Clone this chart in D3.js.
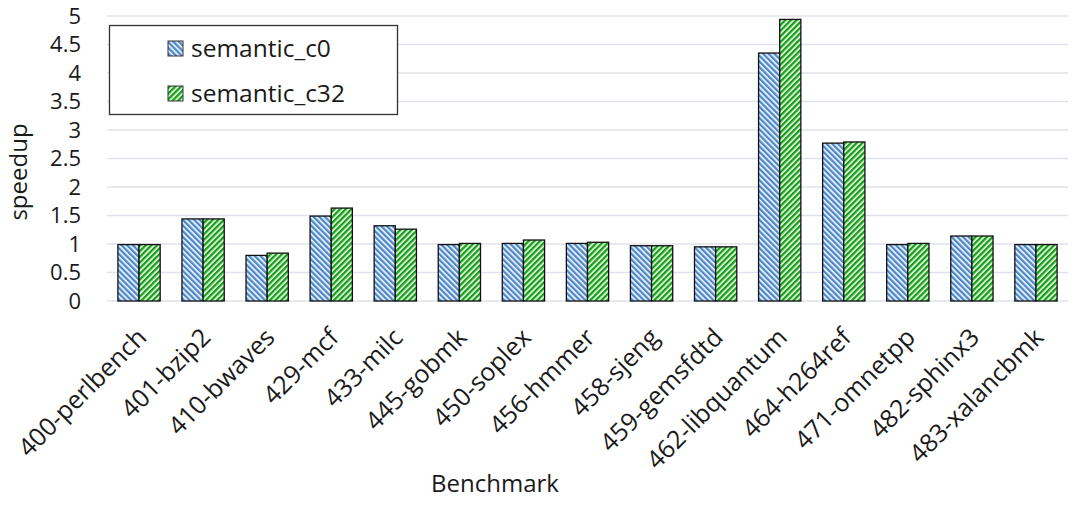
<!DOCTYPE html>
<html>
<head>
<meta charset="utf-8">
<script src="https://cdn.jsdelivr.net/npm/d3@7/dist/d3.min.js"></script>
<style>
  body { margin: 0; background: #fff; }
  svg { display: block; }
  text { font-family: "Open Sans", sans-serif; fill: #1a1a1a; }
</style>
</head>
<body>
<svg id="chart" width="1076" height="505"></svg>
<script>
const categories = ["400-perlbench","401-bzip2","410-bwaves","429-mcf","433-milc","445-gobmk","450-soplex","456-hmmer","458-sjeng","459-gemsfdtd","462-libquantum","464-h264ref","471-omnetpp","482-sphinx3","483-xalancbmk"];
const seriesNames = ["semantic_c0","semantic_c32"];
const c0  = [0.99,1.44,0.80,1.49,1.32,0.99,1.01,1.01,0.97,0.95,4.35,2.77,0.99,1.14,0.99];
const c32 = [0.99,1.44,0.84,1.63,1.26,1.01,1.07,1.03,0.97,0.95,4.94,2.79,1.01,1.14,0.99];
const yTicks = [0,0.5,1,1.5,2,2.5,3,3.5,4,4.5,5];

const svg = d3.select("#chart");
const margin = {left: 107, right: 8, top: 16, bottom: 204};
const W = 1076, H = 505;
const x0 = d3.scaleBand().domain(categories).range([margin.left, W - margin.right]).paddingInner(0.34).paddingOuter(0.17);
const x1 = d3.scaleBand().domain(seriesNames).range([0, x0.bandwidth()]);
const y = d3.scaleLinear().domain([0, 5]).range([H - margin.bottom, margin.top]);

// patterns
const defs = svg.append("defs");
function pat(id, color, dir) {
  const p = defs.append("pattern").attr("id", id).attr("patternUnits", "userSpaceOnUse")
    .attr("width", 4).attr("height", 4)
    .attr("patternTransform", `rotate(${dir})`);
  p.append("rect").attr("width", 4).attr("height", 4).attr("fill", "#fff");
  p.append("rect").attr("width", 2.4).attr("height", 4).attr("fill", color);
}
pat("pBlue", "#4c88cc", -45);
pat("pGreen", "#14a014", 45);
const fills = {"semantic_c0": "url(#pBlue)", "semantic_c32": "url(#pGreen)"};

// gridlines
svg.append("g").selectAll("line").data(yTicks).join("line")
  .attr("x1", margin.left).attr("x2", W - margin.right)
  .attr("y1", d => y(d)).attr("y2", d => y(d))
  .attr("stroke", "#dfe2ea").attr("stroke-width", 1.5);

// y tick labels
svg.append("g").selectAll("text").data(yTicks).join("text")
  .attr("x", 81).attr("y", d => y(d)).attr("dy", "0.36em")
  .attr("text-anchor", "end").style("font-size", "22px")
  .text(d => d);

// bars
const data = categories.map((c, i) => ({cat: c, vals: [{s: "semantic_c0", v: c0[i]}, {s: "semantic_c32", v: c32[i]}]}));
const g = svg.append("g").selectAll("g").data(data).join("g")
  .attr("transform", d => `translate(${x0(d.cat)},0)`);
g.selectAll("rect").data(d => d.vals).join("rect")
  .attr("x", d => x1(d.s)).attr("width", x1.bandwidth())
  .attr("y", d => y(d.v)).attr("height", d => y(0) - y(d.v))
  .attr("fill", d => fills[d.s])
  .attr("stroke", "#111").attr("stroke-width", 1.3);

// x labels
svg.append("g").selectAll("text").data(categories).join("text")
  .attr("text-anchor", "end").style("font-size", "25px")
  .attr("transform", d => `translate(${x0(d) + x0.bandwidth()/2 + 9},${y(0) + 38}) rotate(-45)`)
  .text(d => d);

// axis titles
svg.append("text").attr("x", 495).attr("y", 492).attr("text-anchor", "middle")
  .style("font-size", "24px").text("Benchmark");
svg.append("text").attr("transform", `translate(27,172) rotate(-90)`)
  .attr("text-anchor", "middle").style("font-size", "24px").text("speedup");

// legend
const lg = svg.append("g");
lg.append("rect").attr("x", 109.5).attr("y", 25.5).attr("width", 288).attr("height", 89)
  .attr("fill", "#fff").attr("stroke", "#333").attr("stroke-width", 1.3);
const ly = [48, 93];
seriesNames.forEach((s, i) => {
  lg.append("rect").attr("x", 168).attr("y", ly[i] - 7).attr("width", 15).attr("height", 15)
    .attr("fill", fills[s]).attr("stroke", "#333").attr("stroke-width", 1);
  lg.append("text").attr("x", 191).attr("y", ly[i]).attr("dy", "0.35em")
    .style("font-size", "24.5px").text(s);
});
</script>
</body>
</html>
